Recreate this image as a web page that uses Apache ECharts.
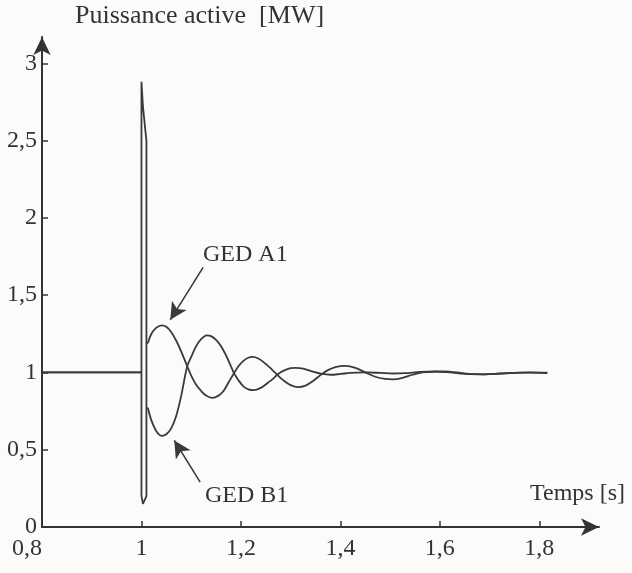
<!DOCTYPE html>
<html><head><meta charset="utf-8">
<script src="https://cdn.jsdelivr.net/npm/echarts@6/dist/echarts.min.js"></script>
<style>html,body{margin:0;padding:0;background:#fbfbf9}#c{width:632px;height:573px}</style>
</head><body><div id="c"></div>
<script>
// Tick labels
const xTicks = [0.8, 1.0, 1.2, 1.4, 1.6, 1.8];
const yTicks = [0, 0.5, 1, 1.5, 2, 2.5, 3];

// GED A1 : [time s, active power MW] — fault part (up to clearance)
const gedA1Fault = [
  [0.8,1.0],[1.0,1.0],[1.0,2.88],[1.003,2.72],[1.008,2.56],[1.01,2.5],[1.01,1.19],[1.013,1.19]
];
// GED A1 : post-fault oscillation
const gedA1 = [
  [1.013,1.19],[1.02,1.25],[1.03,1.29],[1.041,1.305],[1.05,1.295],[1.06,1.26],[1.07,1.205],
  [1.08,1.135],[1.092,1.04],[1.10,0.98],[1.11,0.92],[1.12,0.88],[1.13,0.85],[1.142,0.835],
  [1.155,0.85],[1.165,0.88],[1.175,0.935],[1.186,0.995],[1.195,1.04],[1.205,1.075],
  [1.215,1.095],[1.2225,1.1],[1.235,1.09],[1.25,1.055],[1.262,1.02],[1.273,0.985],
  [1.285,0.95],[1.30,0.918],[1.315,0.905],[1.33,0.915],[1.345,0.945],[1.363,0.99],
  [1.375,1.015],[1.39,1.035],[1.41,1.042],[1.43,1.03],[1.45,1.0],[1.47,0.972],[1.49,0.958],
  [1.506,0.955],[1.525,0.965],[1.545,0.985],[1.565,1.0],[1.59,1.005],[1.611,1.007],
  [1.635,1.0],[1.66,0.99],[1.69,0.988],[1.72,0.993],[1.75,0.997],[1.78,1.0],[1.816,0.998]
];

// GED B1 : fault part
const gedB1Fault = [
  [0.8,1.0],[1.0,1.0],[1.0,0.2],[1.003,0.15],[1.007,0.16],[1.01,0.2],[1.01,1.19],[1.01,0.77],[1.013,0.77]
];
// GED B1 : post-fault oscillation
const gedB1 = [
  [1.013,0.77],[1.02,0.69],[1.03,0.62],[1.041,0.59],[1.05,0.6],[1.06,0.64],[1.07,0.72],
  [1.08,0.85],[1.092,1.04],[1.10,1.1],[1.11,1.17],[1.12,1.215],[1.131,1.24],[1.14,1.235],
  [1.15,1.21],[1.16,1.17],[1.17,1.11],[1.18,1.04],[1.186,0.995],[1.195,0.95],[1.205,0.91],
  [1.215,0.89],[1.225,0.885],[1.24,0.9],[1.255,0.935],[1.265,0.96],[1.273,0.985],
  [1.285,1.01],[1.30,1.028],[1.31,1.03],[1.325,1.025],[1.345,1.005],[1.363,0.99],
  [1.38,0.985],[1.40,0.99],[1.42,0.997],[1.45,1.0],[1.48,0.997],[1.506,0.993],[1.53,0.995],
  [1.56,1.003],[1.59,1.006],[1.62,1.0],[1.65,0.99],[1.69,0.988],[1.72,0.992],[1.75,0.997],
  [1.78,0.999],[1.816,0.996]
];

// Annotation arrows (data coordinates): [from, to]
const arrowA1 = [[1.124,1.68],[1.058,1.34]];
const arrowB1 = [[1.118,0.29],[1.066,0.56]];

const FONT = '"Liberation Serif", "DejaVu Serif", serif';
const INK = '#333333';
const LINE = '#3a3a3a';
const fmt = v => String(Math.round(v*10)/10).replace('.', ',');

const lineSeries = (name, data, smooth) => ({
  name, type: 'line', data, showSymbol: false, smooth,
  lineStyle: {color: LINE, width: 1.8}
});
const arrowSeries = (arrow) => ({
  type: 'line', data: [], silent: true,
  markLine: {
    silent: true, symbol: ['none','arrow'], symbolSize: [13,17],
    lineStyle: {color: LINE, width: 1.6, type: 'solid'}, label: {show: false},
    data: [[{coord: arrow[0]}, {coord: arrow[1]}]]
  }
});

const chart = echarts.init(document.getElementById('c'), null, {renderer:'canvas'});
chart.setOption({
  backgroundColor: '#fbfbf9',
  animation: false,
  grid: {left: 42, right: 33, top: 37, bottom: 46, containLabel: false},
  xAxis: {
    type: 'value', min: 0.8, max: 1.92,
    axisLine: {lineStyle: {color: INK, width: 2}, symbol: ['none','arrow'], symbolSize: [13,18]},
    axisTick: {show: true, inside: true, length: 6, lineStyle: {color: INK, width: 1.5}, customValues: xTicks},
    axisLabel: {customValues: xTicks, formatter: fmt, color: INK, fontFamily: FONT, fontSize: 24, margin: 10, alignMinLabel: 'right'},
    splitLine: {show: false}
  },
  yAxis: {
    type: 'value', min: 0, max: 3.17,
    axisLine: {show: true, lineStyle: {color: INK, width: 2}, symbol: ['none','arrow'], symbolSize: [13,18]},
    axisTick: {show: true, inside: true, length: 6, lineStyle: {color: INK, width: 1.5}, customValues: yTicks},
    axisLabel: {customValues: yTicks, formatter: fmt, color: INK, fontFamily: FONT, fontSize: 24, margin: 5},
    splitLine: {show: false}
  },
  series: [
    lineSeries('GED A1', gedA1Fault, false),
    lineSeries('GED A1', gedA1, 0.35),
    lineSeries('GED B1', gedB1Fault, false),
    lineSeries('GED B1', gedB1, 0.35),
    arrowSeries(arrowA1),
    arrowSeries(arrowB1)
  ],
  graphic: [
    {type: 'text', left: 75, top: 3, style: {text: 'Puissance active  [MW]', fill: INK, font: '26px ' + FONT}},
    {type: 'text', left: 530, top: 482, style: {text: 'Temps [s]', fill: INK, font: '24px ' + FONT}},
    {type: 'text', left: 203, top: 243, style: {text: 'GED A1', fill: INK, font: '24px ' + FONT}},
    {type: 'text', left: 205, top: 484, style: {text: 'GED B1', fill: INK, font: '24px ' + FONT}}
  ]
});
</script></body></html>
